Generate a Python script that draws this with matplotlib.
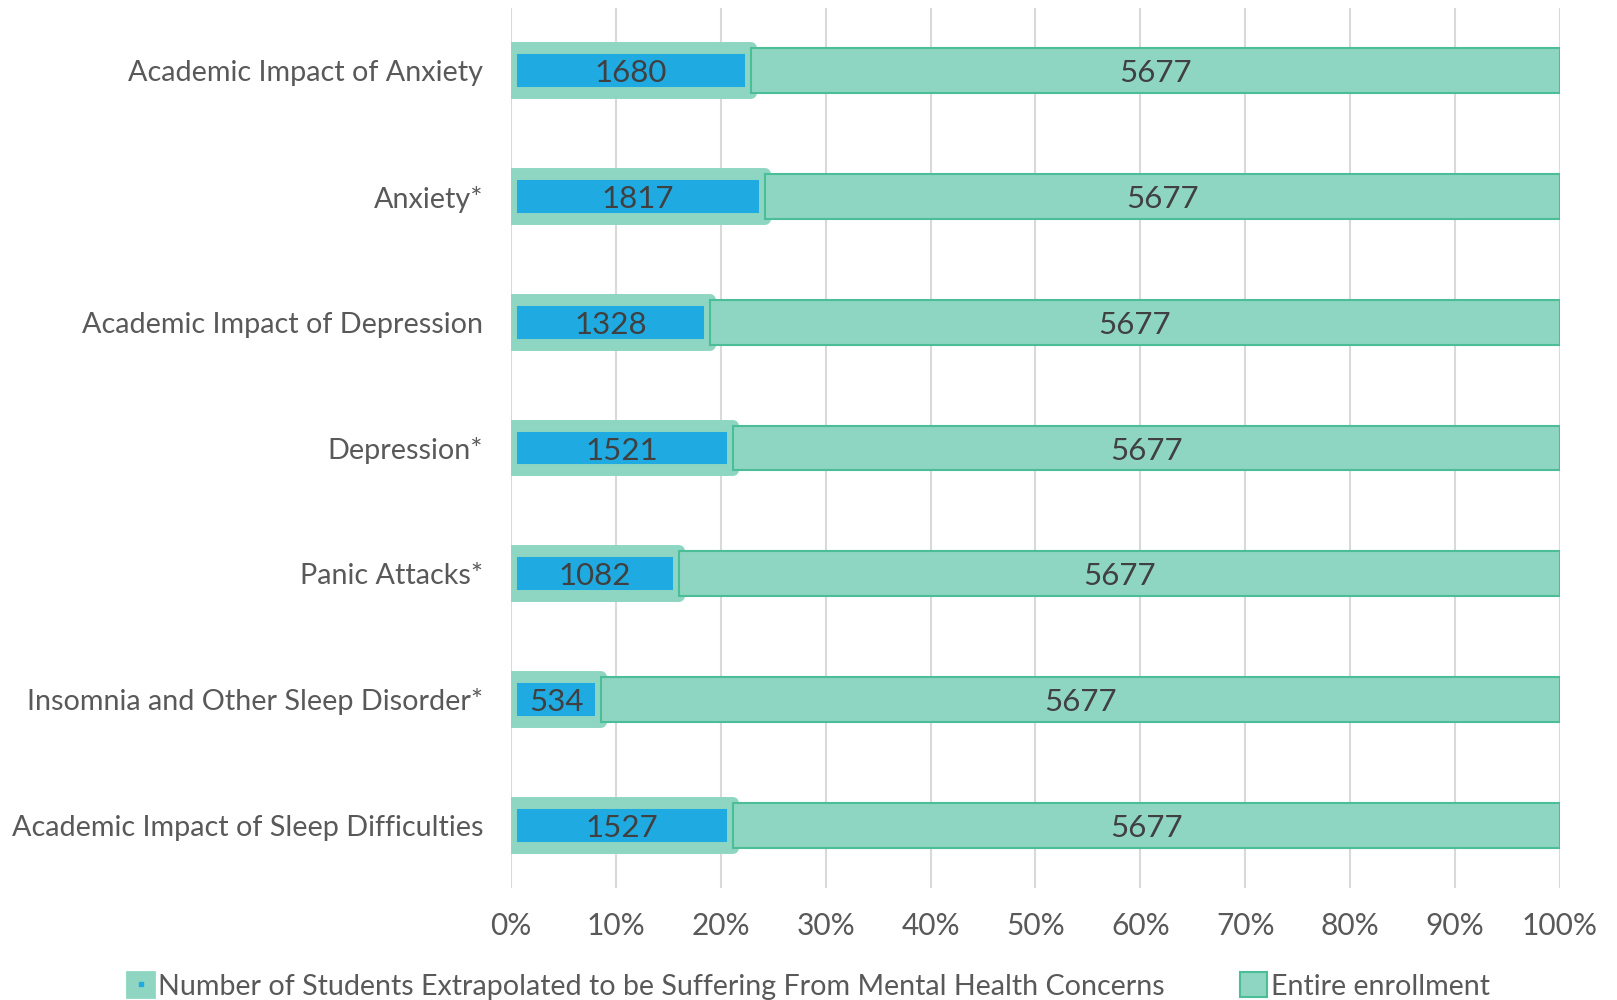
import numpy as np
import matplotlib.pyplot as plt
from matplotlib.patches import Patch
from matplotlib.lines import Line2D

plt.rcParams['font.family'] = ['Lato', 'DejaVu Sans']

# Data
categories = [
    "Academic Impact of Anxiety",
    "Anxiety*",
    "Academic Impact of Depression",
    "Depression*",
    "Panic Attacks*",
    "Insomnia and Other Sleep Disorder*",
    "Academic Impact of Sleep Difficulties",
]
suffering = [1680, 1817, 1328, 1521, 1082, 534, 1527]
enrollment = [5677, 5677, 5677, 5677, 5677, 5677, 5677]

blue = "#1FABE2"
teal = "#8ED6C2"
teal_edge = "#4BBE97"
grid_col = "#D9D9D9"
text_col = "#404040"
tick_col = "#595959"

suff = np.array(suffering, dtype=float)
enr = np.array(enrollment, dtype=float)
total = suff + enr
share1 = suff / total
share2 = enr / total

fig = plt.figure(figsize=(16.17, 10), dpi=100)
ax = fig.add_axes([0.316, 0.112, 0.6487, 0.88])

y = np.arange(len(categories))
h = 0.357

ax.barh(y, share1, height=h, color=blue, edgecolor=teal,
        linewidth=8.6, joinstyle="round", zorder=2)
ax.barh(y, share2, left=share1, height=h, color=teal,
        edgecolor=teal_edge, linewidth=1.5, zorder=3)

for i in range(len(categories)):
    ax.text(share1[i] / 2, y[i] + 0.02, f"{suffering[i]}", ha="center",
            va="center", fontsize=22.5, color=text_col, zorder=5)
    ax.text(share1[i] + share2[i] / 2, y[i] + 0.02, f"{enrollment[i]}",
            ha="center", va="center", fontsize=22.5, color=text_col, zorder=5)

ax.set_xlim(0, 1)
ax.set_ylim(len(categories) - 0.5, -0.5)
ax.set_xticks(np.linspace(0, 1, 11))
ax.set_xticklabels([f"{int(v)}%" for v in np.linspace(0, 100, 11)])
ax.set_yticks(y)
ax.set_yticklabels(categories)
ax.tick_params(axis="x", length=0, pad=17, labelsize=21.5, labelcolor=tick_col)
ax.tick_params(axis="y", length=0, pad=20, labelsize=20.7, labelcolor=tick_col)
ax.xaxis.grid(True, color=grid_col, linewidth=1.5, zorder=0)
ax.set_axisbelow(True)
for s in ax.spines.values():
    s.set_visible(False)

h1 = (Patch(facecolor=teal, edgecolor=teal, linewidth=2, joinstyle="round"),
      Line2D([], [], marker="s", markersize=2.5, color=blue, linestyle="none"))
h2 = Patch(facecolor=teal, edgecolor=teal_edge, linewidth=1.5)
fig.legend([h1, h2],
           ["Number of Students Extrapolated to be Suffering From Mental Health Concerns",
            "Entire enrollment"],
           loc="center", bbox_to_anchor=(0.5, 0.014), ncol=2, frameon=False,
           fontsize=20.6, labelcolor=tick_col, handlelength=0.95, handleheight=0.95,
           handletextpad=0.15, columnspacing=2.6)

fig.savefig("out.png", dpi=100)
